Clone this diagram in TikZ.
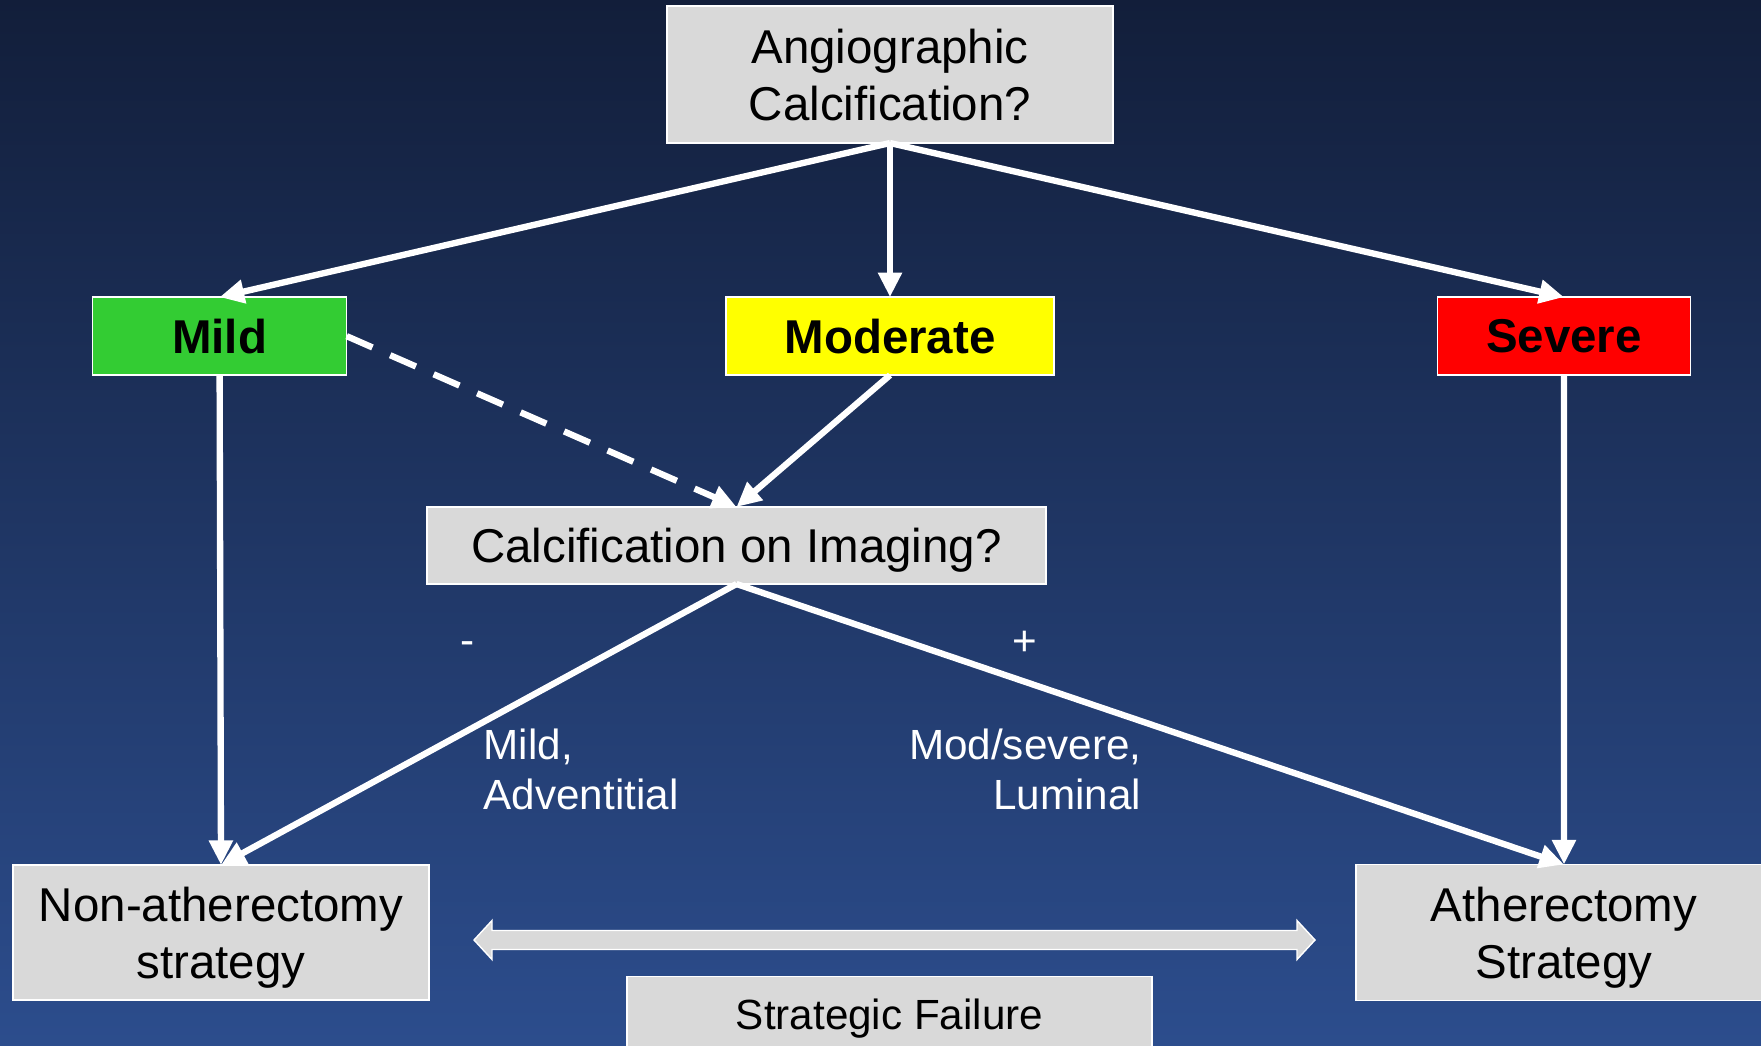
\documentclass[tikz,border=0pt]{standalone}
\usepackage{fontspec}
\setmainfont{Liberation Sans}
\usetikzlibrary{arrows.meta,positioning,calc}
\definecolor{bgtop}{HTML}{121E3A}
\definecolor{bgbottom}{HTML}{2C4D8D}
\definecolor{boxgray}{HTML}{D9D9D9}
\definecolor{mildgreen}{HTML}{33CC33}
\definecolor{modyellow}{HTML}{FFFF00}
\definecolor{sevred}{HTML}{FF0000}
\begin{document}
\begin{tikzpicture}[
    x=0.01cm, y=-0.01cm,
    question/.style={rectangle,draw=white,line width=0.4pt,fill=boxgray,inner sep=0pt,outer sep=0pt,text depth=0pt,align=center,font=\fontsize{13.5}{16.2}\selectfont},
    grade/.style={rectangle,draw=white,line width=0.4pt,inner sep=0pt,outer sep=0pt,minimum height=0.78cm,font=\fontsize{13.5}{16.2}\selectfont\bfseries},
    note/.style={text=white,inner sep=0pt,font=\fontsize{12}{14.3}\selectfont},
    flow/.style={draw=white,line width=1.8pt,-{Triangle[length=7pt,width=6.5pt]}},
    swaparrow/.style={draw=white,line width=0.4pt,fill=boxgray}
]
    % Background
    \useasboundingbox (0,0) rectangle (1761,1046);
    \clip (0,0) rectangle (1761,1046);
    \shade[top color=bgtop,bottom color=bgbottom] (0,0) rectangle (1761,1046);

    % Define nodes
    \node[question,minimum width=4.46cm,minimum height=1.37cm] (angio) at (890,74.5) {Angiographic\\Calcification?};
    \node[grade,fill=modyellow,minimum width=3.28cm] (moderate) [below=1.54cm of angio] {Moderate};
    \node[grade,fill=mildgreen,minimum width=2.54cm] (mild) [left=3.79cm of moderate] {Mild};
    \node[grade,fill=sevred,minimum width=2.53cm] (severe) [right=3.83cm of moderate] {Severe};
    \node[question,minimum width=6.19cm,minimum height=0.77cm] (imaging) at (736.5,545.5) {Calcification on Imaging?};
    \node[question,minimum width=4.16cm,minimum height=1.35cm] (nonath) at (221,932.5) {Non-atherectomy\\strategy};
    \node[question,minimum width=4.16cm,minimum height=1.36cm] (ath) at (1564,932.5) {Atherectomy\\Strategy};
    \node[question,minimum width=5.25cm,minimum height=0.75cm,font=\fontsize{12}{14.3}\selectfont] (failure) at (889.5,1014) {Strategic Failure};

    % Labels
    \node[note] (minus) at (468,648) {-};
    \node[note] (plus) at (1025,643) {+};
    \node[note,anchor=north west,align=left] (negnote) at (483,728) {Mild,\\Adventitial};
    \node[note,anchor=north east,align=right] (posnote) at (1142,728) {Mod/severe,\\Luminal};

    % Draw arrows and connections
    \draw[flow] (angio.south) -- (mild.north);
    \draw[flow] (angio.south) -- (moderate.north);
    \draw[flow] (angio.south) -- (severe.north);
    \draw[flow] (mild.south) -- (nonath.north);
    \draw[flow,dash pattern=on 8pt off 5.5pt] (mild.east) -- (imaging.north);
    \draw[flow] (moderate.south) -- (imaging.north);
    \draw[flow] (imaging.south) -- (nonath.north);
    \draw[flow] (imaging.south) -- (ath.north);
    \draw[flow] (severe.south) -- (ath.north);

    % Double arrow between strategies
    \coordinate (swapL) at (474,940);
    \coordinate (swapR) at (1315,940);
    \draw[swaparrow] (swapL) -- ++(18,-19.5) -- ++(0,10) -- ($(swapR)+(-18,-9.5)$) -- ++(0,-10)
        -- (swapR) -- ++(-18,19.5) -- ++(0,-10) -- ($(swapL)+(18,9.5)$) -- ++(0,10) -- cycle;
\end{tikzpicture}
\end{document}
